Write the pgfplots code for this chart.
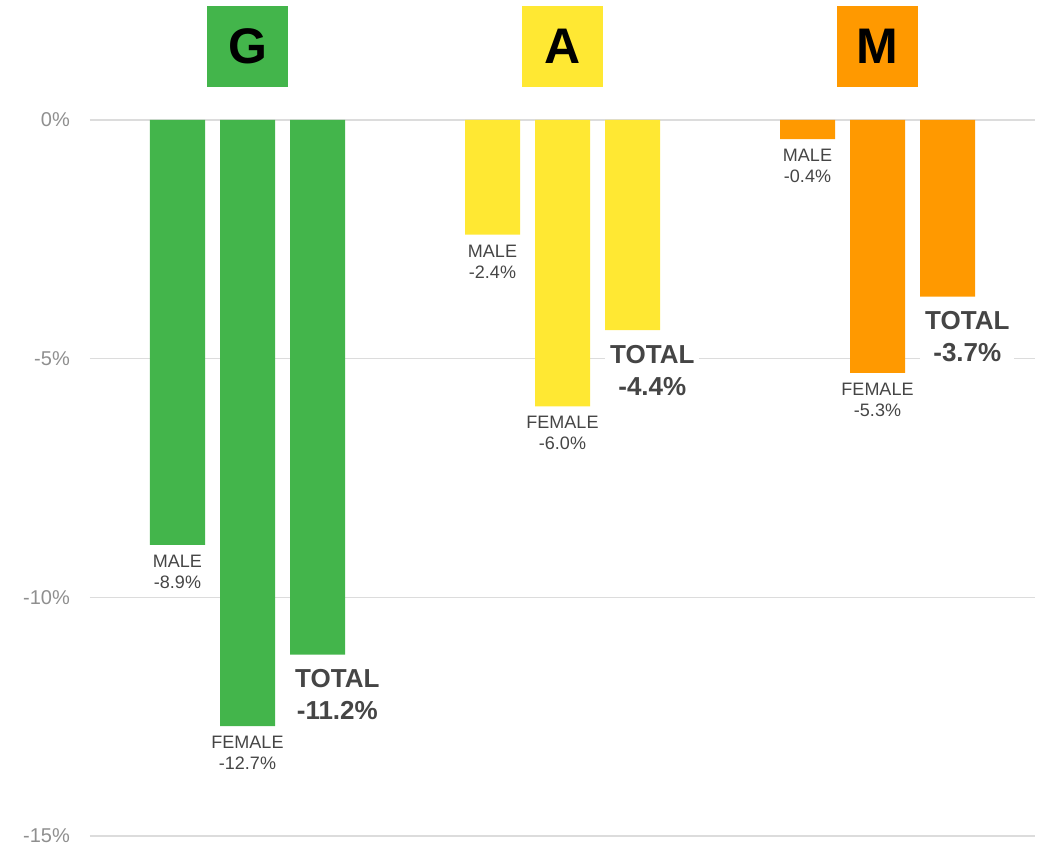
\documentclass[border=0pt]{standalone}
\usepackage{fontspec}
\setmainfont{Liberation Sans}
\usepackage{pgfplots}
\pgfplotsset{compat=1.18}
\definecolor{cG}{HTML}{43B54B}
\definecolor{cA}{HTML}{FFE833}
\definecolor{cM}{HTML}{FF9900}
\definecolor{lab}{HTML}{454545}
\definecolor{tickc}{HTML}{8F8F8F}
\definecolor{gridc}{HTML}{DCDCDC}
\begin{document}
\begin{tikzpicture}[
  small/.style={font=\fontsize{18}{21}\selectfont, text=lab, align=center, inner sep=0pt, anchor=north, yshift=-10pt},
  big/.style={font=\bfseries\fontsize{26}{32}\selectfont, text=lab, align=center, inner sep=5pt, fill=white, anchor=north west, yshift=-10pt},
  head/.style={minimum size=81pt, inner sep=0pt, font=\bfseries\fontsize{50}{50}\selectfont, text=black, yshift=73.5pt}
]
\useasboundingbox (-90pt,-10pt) rectangle (960pt,836pt);
\begin{axis}[
  at={(0pt,0pt)}, anchor=south west,
  scale only axis, width=945pt, height=716pt,
  xmin=0, xmax=945, ymin=-15, ymax=0,
  axis line style={draw=none},
  major tick length=0pt,
  xtick=\empty,
  ytick={-15,-10,-5,0},
  yticklabels={-15\%,-10\%,-5\%,0\%},
  ymajorgrids, grid style={draw=gridc, line width=1.3pt},
  yticklabel style={font=\fontsize{20}{24}\selectfont, text=tickc, inner sep=0pt, xshift=-20pt},
  ybar, bar width=55pt, bar shift=0pt,
  clip=false,
]
\addplot[fill=cG, draw=none] coordinates {(87.5,-8.9) (157.5,-12.7) (227.5,-11.2)};
\addplot[fill=cA, draw=none] coordinates {(402.5,-2.4) (472.5,-6.0) (542.5,-4.4)};
\addplot[fill=cM, draw=none] coordinates {(717.5,-0.4) (787.5,-5.3) (857.5,-3.7)};

\node[small] at (axis cs:87.5,-8.9) {MALE\\-8.9\%};
\node[small] at (axis cs:157.5,-12.7) {FEMALE\\-12.7\%};
\node[big] at (axis cs:200,-11.2) {TOTAL\\-11.2\%};

\node[small] at (axis cs:402.5,-2.4) {MALE\\-2.4\%};
\node[small] at (axis cs:472.5,-6.0) {FEMALE\\-6.0\%};
\node[big] at (axis cs:515,-4.4) {TOTAL\\-4.4\%};

\node[small] at (axis cs:717.5,-0.4) {MALE\\-0.4\%};
\node[small] at (axis cs:787.5,-5.3) {FEMALE\\-5.3\%};
\node[big] at (axis cs:830,-3.7) {TOTAL\\-3.7\%};

\node[head, fill=cG] at (axis cs:157.5,0) {G};
\node[head, fill=cA] at (axis cs:472.5,0) {A};
\node[head, fill=cM] at (axis cs:787.5,0) {M};
\end{axis}
\end{tikzpicture}
\end{document}
